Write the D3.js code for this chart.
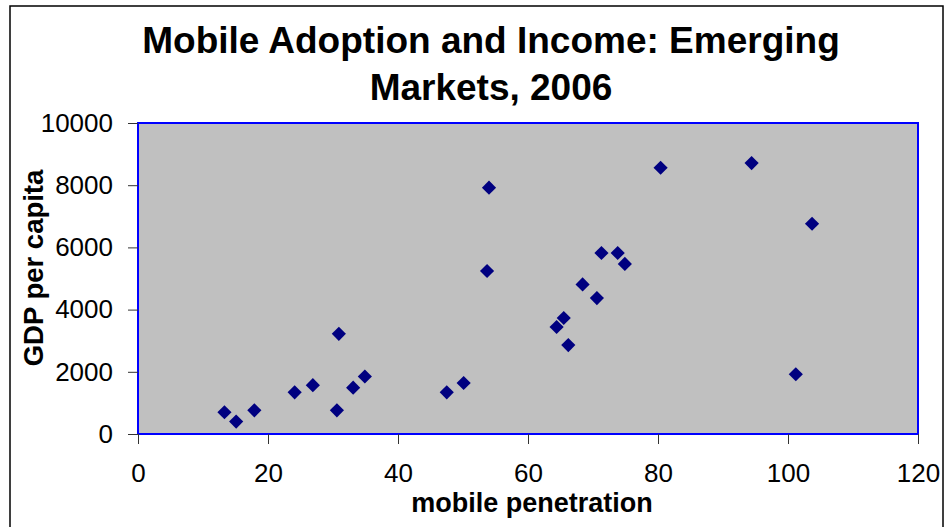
<!DOCTYPE html>
<html>
<head>
<meta charset="utf-8">
<script src="https://cdn.jsdelivr.net/npm/d3@7"></script>
<style>
  body { margin: 0; background: #fff; }
  svg { display: block; font-family: "Liberation Sans", Arial, sans-serif; }
</style>
</head>
<body>
<div id="chart"></div>
<script>
// mobile penetration (x) and GDP per capita (y)
const penetration = [13.3, 15.1, 17.9, 24.1, 26.9, 30.9, 30.6, 33.1, 34.9,
    47.5, 50.1, 54.0, 53.7, 64.4, 65.5, 66.2, 68.4, 70.6, 71.3, 73.8, 74.9,
    80.4, 94.4, 101.2, 103.7];
const gdp = [700, 400, 760, 1340, 1570, 3220, 760, 1490, 1850,
    1340, 1640, 7920, 5240, 3440, 3730, 2860, 4810, 4370, 5820, 5820, 5470,
    8560, 8710, 1920, 6760];
const xTicks = [0, 20, 40, 60, 80, 100, 120];
const yTicks = [0, 2000, 4000, 6000, 8000, 10000];
const titleLines = ["Mobile Adoption and Income: Emerging", "Markets, 2006"];

const width = 945, height = 527;
const margin = {top: 123, right: 27, bottom: 93, left: 138};

const svg = d3.select("#chart").append("svg")
    .attr("width", width)
    .attr("height", height);

// outer chart frame
svg.append("rect")
    .attr("x", 10).attr("y", 6)
    .attr("width", 933).attr("height", 540)
    .attr("fill", "#fff")
    .attr("stroke", "#000")
    .attr("stroke-width", 1.5);

const x = d3.scaleLinear()
    .domain([0, 120])
    .range([margin.left, width - margin.right]);

const y = d3.scaleLinear()
    .domain([0, 10000])
    .range([height - margin.bottom, margin.top]);

// plot area
svg.append("rect")
    .attr("x", x(0)).attr("y", y(10000))
    .attr("width", x(120) - x(0))
    .attr("height", y(0) - y(10000))
    .attr("fill", "#c0c0c0")
    .attr("stroke", "#0000ff")
    .attr("stroke-width", 2);

function xAxis(g) {
    g.attr("transform", `translate(0,${y(0)})`)
        .call(d3.axisBottom(x).tickValues(xTicks).tickFormat(d3.format("d"))
            .tickSize(10).tickPadding(20).tickSizeOuter(0))
        .attr("font-size", "26px")
        .attr("font-family", "Liberation Sans, Arial, sans-serif");
    g.select(".domain").remove();
    g.selectAll(".tick line").attr("stroke", "#333");
    g.selectAll(".tick text").attr("fill", "#000");
}

function yAxis(g) {
    g.attr("transform", `translate(${x(0)},0)`)
        .call(d3.axisLeft(y).tickValues(yTicks).tickFormat(d3.format("d"))
            .tickSize(10).tickPadding(15).tickSizeOuter(0))
        .attr("font-size", "26px")
        .attr("font-family", "Liberation Sans, Arial, sans-serif");
    g.select(".domain").remove();
    g.selectAll(".tick line").attr("stroke", "#333");
    g.selectAll(".tick text").attr("fill", "#000");
}

svg.append("g").call(xAxis);
svg.append("g").call(yAxis);

// markers
svg.append("g")
    .attr("fill", "#000080")
    .selectAll("path")
    .data(penetration)
    .join("path")
        .attr("transform", (d, i) => `translate(${x(d)},${y(gdp[i])})`)
        .attr("d", d3.symbol(d3.symbolDiamond2, 128));

// title
svg.append("text")
    .attr("text-anchor", "middle")
    .attr("font-weight", "bold")
    .attr("font-size", "37px")
    .selectAll("tspan")
    .data(titleLines)
    .join("tspan")
        .attr("x", 491)
        .attr("y", (d, i) => 53 + i * 47)
        .text(d => d);

svg.append("text")
    .attr("text-anchor", "middle")
    .attr("font-weight", "bold")
    .attr("font-size", "27px")
    .attr("x", 532)
    .attr("y", 512)
    .text("mobile penetration");

svg.append("text")
    .attr("text-anchor", "middle")
    .attr("font-weight", "bold")
    .attr("font-size", "27.5px")
    .attr("transform", "translate(43,268) rotate(-90)")
    .text("GDP per capita");
</script>
</body>
</html>
